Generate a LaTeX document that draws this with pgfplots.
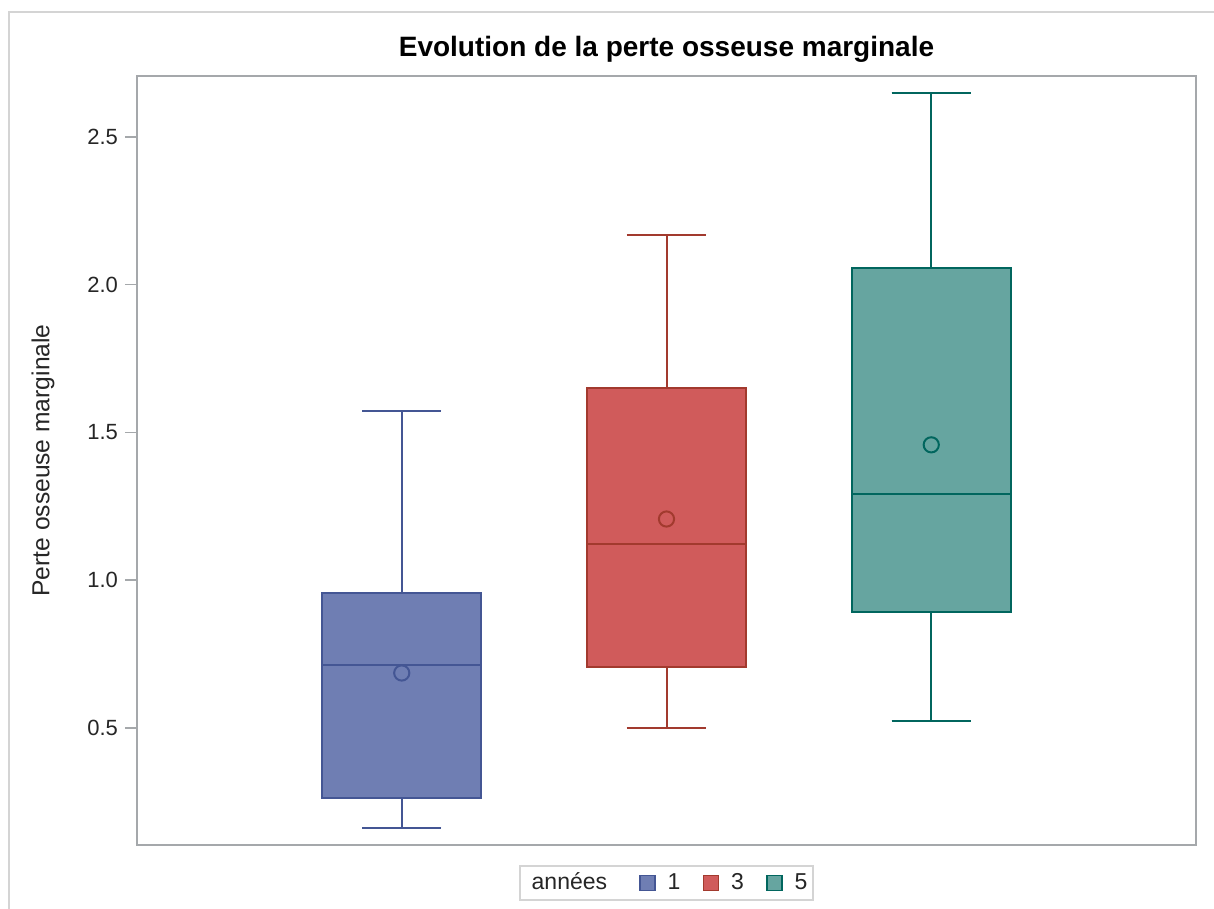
\documentclass[border=0pt]{standalone}
\usepackage{fontspec}
\setmainfont{Liberation Sans}
\usepackage{pgfplots}
\pgfplotsset{compat=1.18}
\usepgfplotslibrary{statistics}
\definecolor{fA}{HTML}{6F7EB3}
\definecolor{eA}{HTML}{445694}
\definecolor{fB}{HTML}{D05B5B}
\definecolor{eB}{HTML}{A23A2E}
\definecolor{fC}{HTML}{66A5A0}
\definecolor{eC}{HTML}{01665E}
\definecolor{framec}{HTML}{A5A8AB}
\definecolor{outerc}{HTML}{D4D4D4}
\begin{document}
\begin{tikzpicture}
\begin{axis}[
  at={(0,0)}, anchor=south west,
  scale only axis, width=529.5pt, height=384.5pt,
  xmin=0, xmax=4, ymin=0.104, ymax=2.706,
  xtick=\empty,
  ytick={0.5,1,1.5,2,2.5},
  /pgf/number format/assume math mode=true,
  yticklabel style={/pgf/number format/fixed, /pgf/number format/fixed zerofill, /pgf/number format/precision=1},
  ytick pos=left, tick align=outside, major tick length=6pt,
  every tick/.style={framec, line width=0.8pt},
  axis line style={framec, line width=1pt},
  tick label style={font=\fontsize{11}{13}\selectfont, text=black!85},
  title={Evolution de la perte osseuse marginale},
  title style={at={(0.5,1)}, anchor=base, yshift=3.5pt, font=\bfseries\fontsize{14}{16}\selectfont},
  ylabel={Perte osseuse marginale},
  ylabel style={at={([xshift=-47pt]axis description cs:0,0.5)}, anchor=center, font=\fontsize{12.3}{14}\selectfont, text=black!85},
  legend columns=-1,
  legend style={at={(0.5,0)}, anchor=north, yshift=-10pt, draw=outerc, line width=1pt,
    font=\fontsize{11.5}{13}\selectfont, text=black!85, inner ysep=1.5pt, inner xsep=0pt,
    /tikz/every odd column/.append style={column sep=4pt},
    /tikz/every even column/.append style={column sep=9pt}},
  boxplot/draw direction=y,
  boxplot/box extend=0.6,
  boxplot/whisker extend=0.3,
  boxplot/every average/.style={/tikz/mark=o, /tikz/mark size=3.8pt},
]
\addplot[forget plot, draw=eA, fill=fA, line width=1pt,
  boxplot prepared={draw position=1, lower whisker=0.162, lower quartile=0.263, median=0.713,
    upper quartile=0.957, upper whisker=1.573, average=0.686}] coordinates {};
\addplot[forget plot, draw=eB, fill=fB, line width=1pt,
  boxplot prepared={draw position=2, lower whisker=0.500, lower quartile=0.706, median=1.123,
    upper quartile=1.651, upper whisker=2.168, average=1.207}] coordinates {};
\addplot[forget plot, draw=eC, fill=fC, line width=1pt,
  boxplot prepared={draw position=3, lower whisker=0.524, lower quartile=0.893, median=1.292,
    upper quartile=2.057, upper whisker=2.649, average=1.458}] coordinates {};
\addlegendimage{empty legend}
\addlegendentry{années\kern5pt}
\addlegendimage{legend image code/.code={\draw[draw=eA,fill=fA,line width=0.8pt] (0pt,-3.75pt) rectangle (7.5pt,3.75pt);}}
\addlegendentry{1}
\addlegendimage{legend image code/.code={\draw[draw=eB,fill=fB,line width=0.8pt] (0pt,-3.75pt) rectangle (7.5pt,3.75pt);}}
\addlegendentry{3}
\addlegendimage{legend image code/.code={\draw[draw=eC,fill=fC,line width=0.8pt] (0pt,-3.75pt) rectangle (7.5pt,3.75pt);}}
\addlegendentry{5\kern1pt}
\end{axis}
\pgfresetboundingbox
\useasboundingbox (-68.5pt,-32pt) rectangle (538.5pt,422.5pt);
\draw[outerc, line width=1pt] (-64pt,-32pt) -- (-64pt,416.5pt) -- (538.5pt,416.5pt);
\end{tikzpicture}
\end{document}
